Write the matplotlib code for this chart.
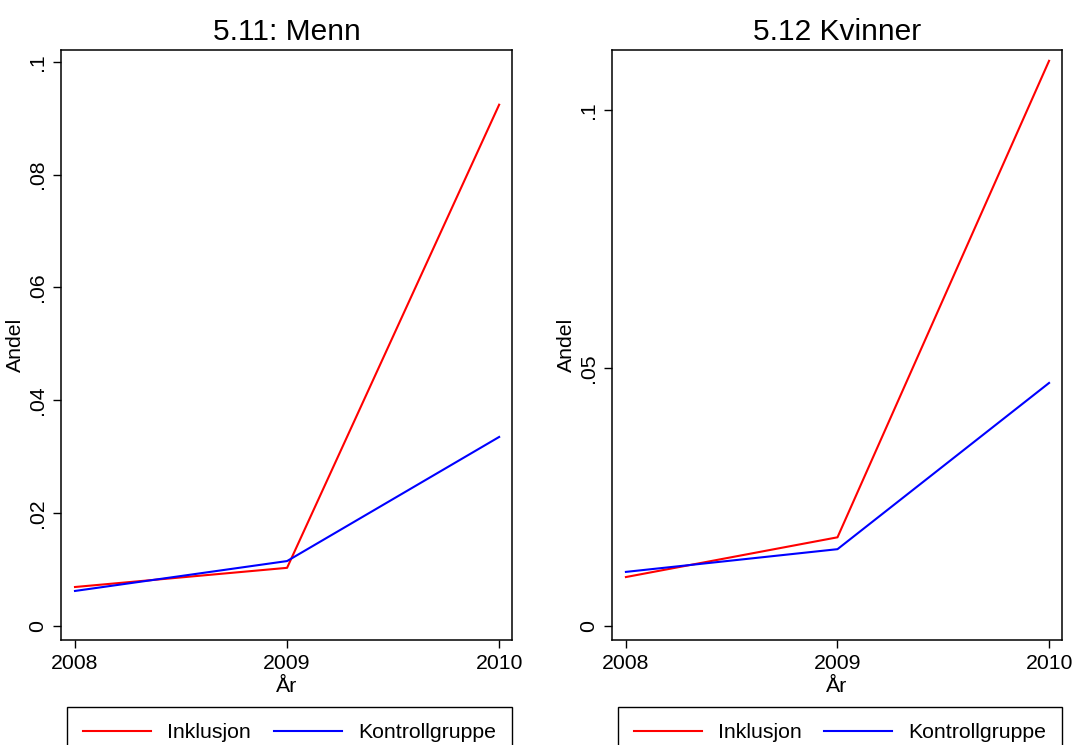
import numpy as np
import matplotlib.pyplot as plt

plt.rcParams['font.family'] = ['Liberation Sans', 'DejaVu Sans']

years = [2008, 2009, 2010]

# andel per år, menn
menn_inkl = [0.0069, 0.0103, 0.0924]
menn_kontroll = [0.0062, 0.0115, 0.0335]

# andel per år, kvinner
kvinner_inkl = [0.0095, 0.0172, 0.1095]
kvinner_kontroll = [0.0105, 0.0149, 0.0471]

titles = ["5.11: Menn", "5.12 Kvinner"]
menn_ticks = [0, 0.02, 0.04, 0.06, 0.08, 0.1]
menn_ticklabels = ["0", ".02", ".04", ".06", ".08", ".1"]
kvinner_ticks = [0, 0.05, 0.1]
kvinner_ticklabels = ["0", ".05", ".1"]

fig = plt.figure(figsize=(10.74, 7.45), dpi=100)
ax1 = fig.add_axes([0.0568, 0.1409, 0.42, 0.792])
ax2 = fig.add_axes([0.5698, 0.1409, 0.419, 0.792])

panels = [
    (ax1, menn_inkl, menn_kontroll, menn_ticks, menn_ticklabels, (-0.0025, 0.1021)),
    (ax2, kvinner_inkl, kvinner_kontroll, kvinner_ticks, kvinner_ticklabels, (-0.0027, 0.1116)),
]

for i, (ax, inkl, kontroll, yt, ytl, ylim) in enumerate(panels):
    l1, = ax.plot(years, inkl, color="#ff0000", lw=1.5, label="Inklusjon")
    l2, = ax.plot(years, kontroll, color="#0000ff", lw=1.5, label="Kontrollgruppe")
    ax.set_xlim(2007.934, 2010.061)
    ax.set_ylim(*ylim)
    ax.set_xticks(years)
    ax.set_xticklabels([str(y) for y in years], fontsize=15.3)
    ax.set_yticks(yt)
    ax.set_yticklabels(ytl, fontsize=15.3, rotation=90, va="center")
    ax.tick_params(direction="out", length=6, width=1, pad=4)
    for s in ax.spines.values():
        s.set_linewidth(1.1)
    ax.set_title(titles[i], fontsize=21.5, pad=7)
    ax.set_xlabel("År", fontsize=15.3, labelpad=3)
    ax.set_ylabel("Andel", fontsize=15.3, labelpad=2)

    # legend under each panel, bottom edge runs past the figure
    pos = ax.get_position()
    x0 = pos.x0 + 0.006
    leg = fig.legend(handles=[l1, l2], loc="upper left",
                     bbox_to_anchor=(x0, 0.051, pos.x1 - x0, 0),
                     mode="expand", ncol=2, fontsize=15.3, frameon=True,
                     fancybox=False, edgecolor="black", framealpha=1,
                     handlelength=3.2, handletextpad=0.75, borderaxespad=0,
                     borderpad=0.75)
    leg.get_frame().set_linewidth(1.0)

fig.savefig("out.png", dpi=100)
